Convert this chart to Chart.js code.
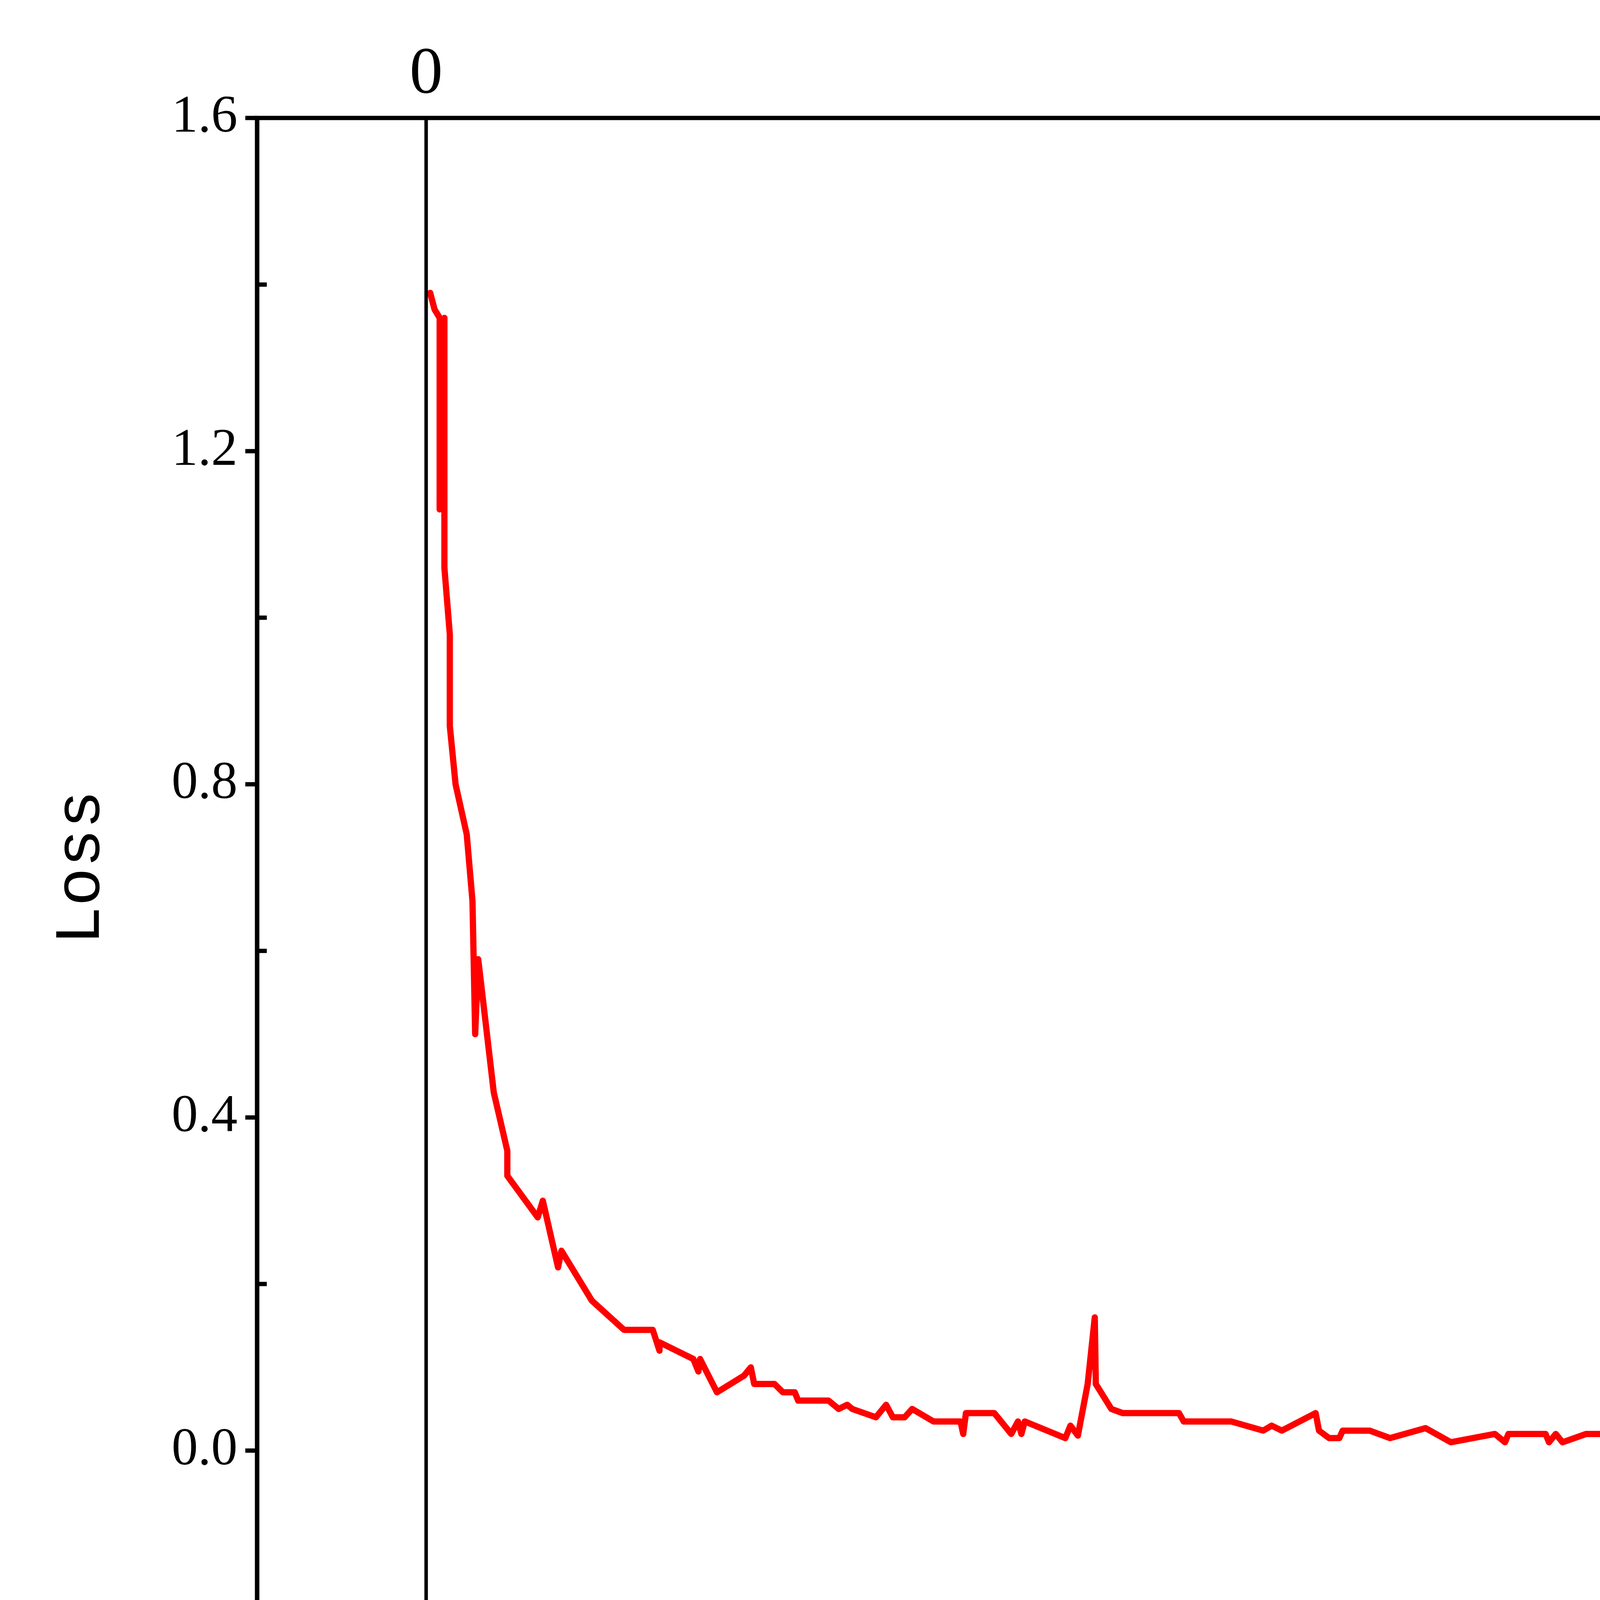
<!DOCTYPE html>
<html>
<head>
<meta charset="utf-8">
<script src="https://cdn.jsdelivr.net/npm/chart.js@4.4.0/dist/chart.umd.min.js"></script>
<style>
  html, body { margin: 0; padding: 0; background: #fff; }
  #wrap { width: 5606px; height: 4783px; }
</style>
</head>
<body>
<div id="wrap"><canvas id="loss"></canvas></div>
<script>
// iterations (x10^3) and loss
const iterations = [1.2,2.5,4,4,5.4,5.4,7,7,8.7,12,13.7,14.5,15.4,20,24,24,33,34.5,39,40,49,58.5,67,69,69,79,80.5,81,86,94,96,97,103,105.5,109,110,119,122,124.5,126,133,136,138,141.5,143.7,150,158,158.8,159.6,168,173,175,176,177,189,190.5,192.7,195.6,197.7,198,202.6,206,222.6,224,238,247.5,250,253,263,264,267,270,271,279,285,295.5,303,316,319,320,331,332,334,336,343,348.5,349,351.5,356,364,366,367,375,377,379,381,383.5,392,393.7,396,399.5,400,407,411,412,413.6,415.6,416.5,424,425,428,429,431.5,432,433.5,439,443.5,448,455,461];
const loss = [1.39,1.37,1.36,1.13,1.36,1.06,0.98,0.87,0.80,0.74,0.66,0.50,0.59,0.43,0.36,0.33,0.28,0.30,0.22,0.24,0.18,0.145,0.145,0.12,0.13,0.11,0.095,0.11,0.07,0.09,0.10,0.08,0.08,0.07,0.07,0.06,0.06,0.05,0.055,0.05,0.04,0.055,0.04,0.04,0.05,0.035,0.035,0.02,0.045,0.045,0.02,0.035,0.02,0.035,0.015,0.03,0.018,0.08,0.16,0.08,0.05,0.045,0.045,0.035,0.035,0.024,0.03,0.024,0.045,0.024,0.015,0.015,0.024,0.024,0.015,0.027,0.01,0.02,0.01,0.02,0.02,0.01,0.02,0.01,0.02,0.02,0.007,0.02,0.002,0.02,0.007,0.02,0.01,0.024,0.002,0.02,0.002,0.01,0.024,0.002,0.002,0.02,0.01,0.02,0.01,0.02,0.02,0.002,0.002,0.012,0.012,0.002,0.012,0.002,0.012,0.012,0.007,-0.007,0.003,-0.007];
const xTicks = [0, 100, 200, 300, 400, 500];
const xMinor = [50, 150, 250, 350, 450];
const yTicks = [0, 0.4, 0.8, 1.2, 1.6];
const yMinor = [-0.2, 0.2, 0.6, 1.0, 1.4];

const points = iterations.map((x, i) => ({ x: x, y: loss[i] }));
const serif = "'Liberation Serif', 'DejaVu Serif', serif";
const mono = "'Liberation Mono', 'DejaVu Sans Mono', monospace";

const tickPlugin = {
  id: 'ticksAndZero',
  afterDraw(chart) {
    const ctx = chart.ctx, a = chart.chartArea;
    const xs = chart.scales.x, ys = chart.scales.y;
    ctx.save();
    ctx.strokeStyle = '#000';
    ctx.lineWidth = 11;
    ctx.strokeRect(a.left, a.top, a.right - a.left, a.bottom - a.top);
    ctx.beginPath();
    xTicks.forEach(v => { const p = xs.getPixelForValue(v); ctx.moveTo(p, a.bottom); ctx.lineTo(p, a.bottom + 30); });
    xMinor.forEach(v => { const p = xs.getPixelForValue(v); ctx.moveTo(p, a.bottom); ctx.lineTo(p, a.bottom - 25); });
    yTicks.forEach(v => { const p = ys.getPixelForValue(v); ctx.moveTo(a.left, p); ctx.lineTo(a.left - 30, p); });
    yMinor.forEach(v => { const p = ys.getPixelForValue(v); ctx.moveTo(a.left, p); ctx.lineTo(a.left + 25, p); });
    ctx.stroke();
    // vertical reference line at x = 0
    const z = xs.getPixelForValue(0);
    ctx.lineWidth = 9;
    ctx.beginPath();
    ctx.moveTo(z, a.top); ctx.lineTo(z, a.bottom);
    ctx.stroke();
    ctx.fillStyle = '#000';
    ctx.font = '170px ' + serif;
    ctx.textAlign = 'center';
    ctx.textBaseline = 'bottom';
    ctx.fillText('0', z, a.top - 25);
    ctx.restore();
  }
};

new Chart(document.getElementById('loss'), {
  type: 'scatter',
  data: {
    datasets: [{
      data: points,
      showLine: true,
      borderColor: '#ff0000',
      borderWidth: 16,
      borderJoinStyle: 'round',
      borderCapStyle: 'round',
      pointRadius: 0,
      tension: 0
    }]
  },
  options: {
    responsive: true,
    maintainAspectRatio: false,
    animation: false,
    devicePixelRatio: 1,
    layout: { padding: { top: 302, right: 186, left: 0, bottom: 0 } },
    plugins: { legend: { display: false }, tooltip: { enabled: false } },
    scales: {
      x: {
        type: 'linear', min: -50, max: 500,
        afterBuildTicks: s => { s.ticks = xTicks.map(v => ({ value: v })); },
        afterFit: s => { s.height = 643; },
        grid: { display: false, drawTicks: false },
        border: { display: true, color: '#000', width: 11 },
        ticks: { color: '#000', font: { family: serif, size: 135 }, padding: 50 },
        title: { display: true, text: 'Number of iterations/×10³', color: '#000',
                 font: { family: mono, size: 165 }, padding: { top: 60, bottom: 90 } }
      },
      y: {
        type: 'linear', min: -0.2, max: 1.6,
        afterBuildTicks: s => { s.ticks = yTicks.map(v => ({ value: v })); },
        afterFit: s => { s.width = 658; },
        grid: { display: false, drawTicks: false },
        border: { display: true, color: '#000', width: 11 },
        ticks: { color: '#000', font: { family: serif, size: 135 }, padding: 50,
                 callback: v => v.toFixed(1) },
        title: { display: true, text: 'Loss', color: '#000',
                 font: { family: mono, size: 165 }, padding: { top: 110, bottom: 30 } }
      }
    }
  },
  plugins: [tickPlugin]
});
</script>
</body>
</html>
